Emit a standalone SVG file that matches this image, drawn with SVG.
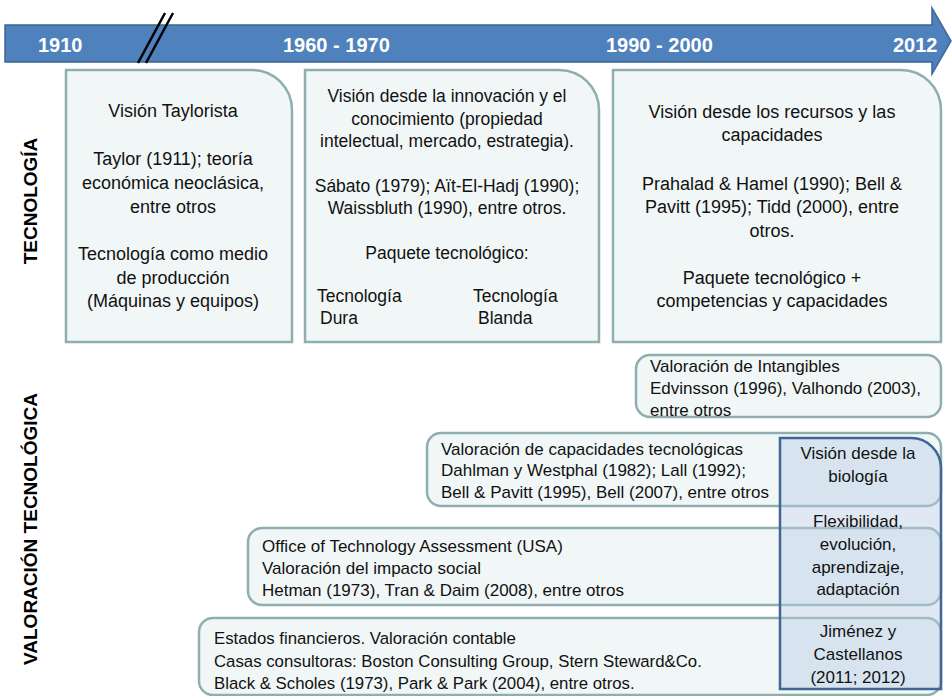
<svg xmlns="http://www.w3.org/2000/svg" width="952" height="696" viewBox="0 0 952 696">
<style>
.box{fill:#F1F7F7;stroke:#8FAEB0;stroke-width:2.5}
.bio{fill:#B9CDE5;fill-opacity:0.45;stroke:#3F6696;stroke-width:2.5}
.t{font-family:"Liberation Sans",Arial,sans-serif;font-size:17px;fill:#111}
.u{font-size:18px}
.u2{font-size:17.5px}
.c{text-anchor:middle}
.yr{font-family:"Liberation Sans",Arial,sans-serif;font-size:20px;font-weight:bold;fill:#fff}
.lab{font-family:"Liberation Sans",Arial,sans-serif;font-size:19px;font-weight:bold;fill:#000;text-anchor:middle}
.brk{stroke:#000;stroke-width:2.5}
</style>
<g id="timeline">
<polygon points="5,25 932,25 932,8 951,41 932,74 932,62 5,62" fill="#4F81BD" stroke="#3A6595" stroke-width="1.5"/>
<text class="yr" x="38" y="52">1910</text>
<text class="yr" x="283" y="52">1960 - 1970</text>
<text class="yr" x="606" y="52">1990 - 2000</text>
<text class="yr" x="893" y="52">2012</text>
<line class="brk" x1="138" y1="63" x2="165" y2="13"/>
<line class="brk" x1="146" y1="63" x2="173" y2="13"/>
</g>
<g id="labels">
<text class="lab" transform="translate(37,201) rotate(-90)">TECNOLOGÍA</text>
<text class="lab" transform="translate(37,529) rotate(-90)">VALORACIÓN TECNOLÓGICA</text>
</g>
<g id="taylor">
<path class="box" d="M66,70 H252 A40,40 0 0 1 292,110 V342 H66 Z"/>
<text class="t u c" x="173" y="117">Visión Taylorista</text>
<text class="t u c" x="173" y="165">Taylor (1911); teoría</text>
<text class="t u c" x="173" y="189">económica neoclásica,</text>
<text class="t u c" x="173" y="213">entre otros</text>
<text class="t u c" x="173" y="260">Tecnología como medio</text>
<text class="t u c" x="173" y="284">de producción</text>
<text class="t u c" x="173" y="307">(Máquinas y equipos)</text>
</g>
<g id="innovacion">
<path class="box" d="M305,70 H559 A40,40 0 0 1 599,110 V342 H305 Z"/>
<text class="t u2 c" x="447" y="102">Visión desde la innovación y el</text>
<text class="t u2 c" x="447" y="125">conocimiento (propiedad</text>
<text class="t u2 c" x="447" y="147">intelectual, mercado, estrategia).</text>
<text class="t u2 c" x="447" y="192">Sábato (1979); Aït-El-Hadj (1990);</text>
<text class="t u2 c" x="447" y="214">Waissbluth (1990), entre otros.</text>
<text class="t u2 c" x="447" y="259">Paquete tecnológico:</text>
<text class="t u2" x="317" y="302">Tecnología</text>
<text class="t u2" x="320" y="324">Dura</text>
<text class="t u2" x="473" y="302">Tecnología</text>
<text class="t u2" x="478" y="324">Blanda</text>
</g>
<g id="recursos">
<path class="box" d="M613,70 H901 A40,40 0 0 1 941,110 V342 H613 Z"/>
<text class="t u c" x="772" y="118">Visión desde los recursos y las</text>
<text class="t u c" x="772" y="141">capacidades</text>
<text class="t u c" x="772" y="190">Prahalad &amp; Hamel (1990); Bell &amp;</text>
<text class="t u c" x="772" y="213">Pavitt (1995); Tidd (2000), entre</text>
<text class="t u c" x="772" y="237">otros.</text>
<text class="t u c" x="772" y="284">Paquete tecnológico +</text>
<text class="t u c" x="772" y="307">competencias y capacidades</text>
</g>
<g id="intangibles">
<rect class="box" x="636" y="355" width="305" height="62" rx="14"/>
<text class="t" x="650" y="372">Valoración de Intangibles</text>
<text class="t" x="650" y="394">Edvinsson (1996), Valhondo (2003),</text>
<text class="t" x="650" y="416">entre otros</text>
</g>
<g id="capacidades">
<rect class="box" x="427" y="433" width="514" height="73" rx="14"/>
<text class="t" x="441" y="455">Valoración de capacidades tecnológicas</text>
<text class="t" x="441" y="476">Dahlman y Westphal (1982); Lall (1992);</text>
<text class="t" x="441" y="498">Bell &amp; Pavitt (1995), Bell (2007), entre otros</text>
</g>
<g id="impacto">
<rect class="box" x="248" y="528" width="693" height="77" rx="14"/>
<text class="t" x="262" y="552">Office of Technology Assessment (USA)</text>
<text class="t" x="262" y="574">Valoración del impacto social</text>
<text class="t" x="262" y="596">Hetman (1973), Tran &amp; Daim (2008), entre otros</text>
</g>
<g id="financieros">
<rect class="box" x="199" y="618" width="742" height="77" rx="14"/>
<text class="t" x="214" y="644" style="font-size:16.8px">Estados financieros. Valoración contable</text>
<text class="t" x="214" y="667" style="font-size:16.8px">Casas consultoras: Boston Consulting Group, Stern Steward&amp;Co.</text>
<text class="t" x="214" y="689" style="font-size:16.8px">Black &amp; Scholes (1973), Park &amp; Park (2004), entre otros.</text>
</g>
<g id="biologia">
<path class="bio" d="M780,438 H911 A30,30 0 0 1 941,468 V689 H780 Z"/>
<text class="t c" x="858" y="459">Visión desde la</text>
<text class="t c" x="858" y="482">biología</text>
<text class="t c" x="858" y="527">Flexibilidad,</text>
<text class="t c" x="858" y="550">evolución,</text>
<text class="t c" x="858" y="573">aprendizaje,</text>
<text class="t c" x="858" y="595">adaptación</text>
<text class="t c" x="858" y="637">Jiménez y</text>
<text class="t c" x="858" y="660">Castellanos</text>
<text class="t c" x="858" y="683">(2011; 2012)</text>
</g>
<g id="connectors"></g>
</svg>
